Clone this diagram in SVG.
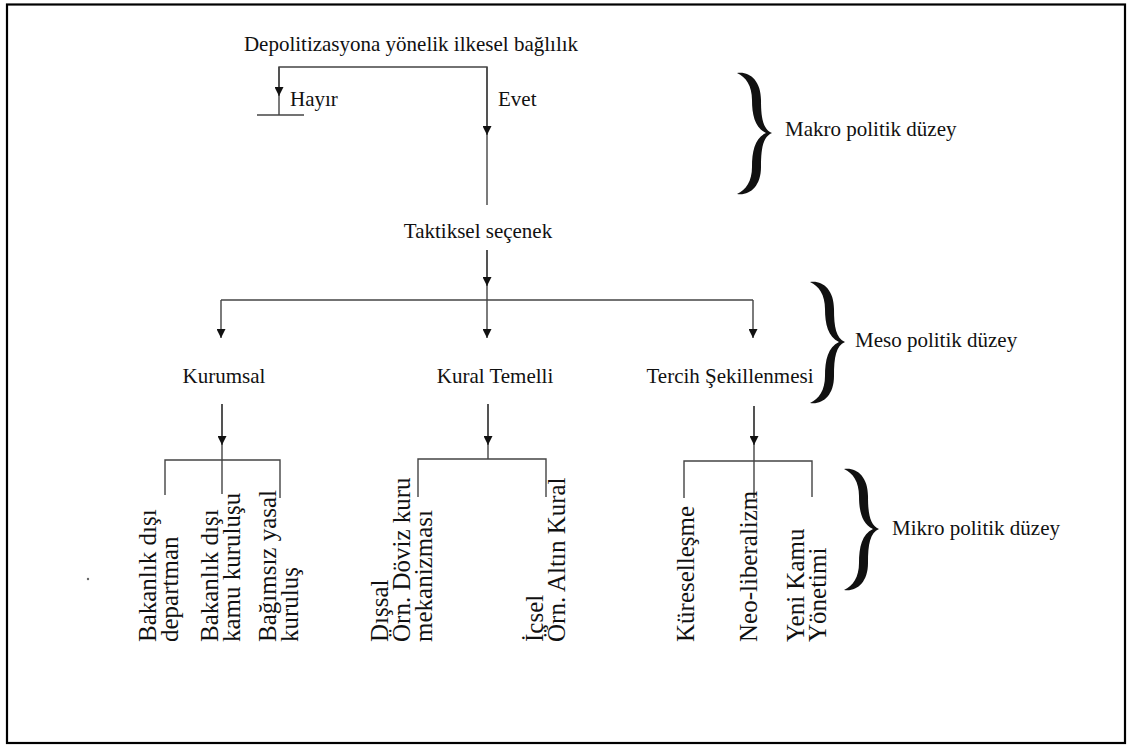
<svg xmlns="http://www.w3.org/2000/svg" width="1133" height="745" viewBox="0 0 1133 745">
<style>
.t{font-family:"Liberation Serif","Times New Roman",serif;font-size:21px;fill:#111}
.r{font-family:"Liberation Serif","Times New Roman",serif;font-size:25px;fill:#111}
.c{fill:none;stroke:#444;stroke-width:1.4}
.a{fill:none;stroke:#444;stroke-width:1.4;marker-end:url(#ah)}
.b{fill:#111}
</style>
<defs>
<marker id="ah" viewBox="0 -5 10 10" refX="10" refY="0" markerWidth="9" markerHeight="9" markerUnits="userSpaceOnUse" orient="auto">
<path d="M0,-5 L10,0 L0,5 Z" fill="#111"/>
</marker>
<path id="brace" d="M0,1 C12,-1 24,8 24,28 C24,46 26,57 35,61 C26,65 24,76 24,95 C24,115 12,124 0,122 C9,118 15,109 15,95 C15,79 18,66 29,61 C18,56 15,43 15,28 C15,14 9,5 0,1 Z"/>
</defs>
<rect x="7" y="4.5" width="1118" height="738.5" fill="none" stroke="#000" stroke-width="2.2"/>
<circle cx="88" cy="579" r="1.2" fill="#666"/>

<g id="connectors">
<path class="c" d="M279,115 V67 H487 V205"/>
<path class="a" d="M279,67 V96"/>
<path class="a" d="M487,67 V135"/>
<path class="c" d="M257,115 H304"/>
<path class="c" d="M487,250 V300"/>
<path class="a" d="M487,250 V286"/>
<path class="c" d="M221,300 H753"/>
<path class="a" d="M221,300 V338"/>
<path class="a" d="M487,300 V338"/>
<path class="a" d="M753,300 V338"/>
<path class="c" d="M222,404 V460"/>
<path class="a" d="M222,404 V445"/>
<path class="c" d="M488,404 V459"/>
<path class="a" d="M488,404 V445"/>
<path class="c" d="M754,406 V461"/>
<path class="a" d="M754,406 V445"/>
<path class="c" d="M165,495 V460 H280 V498"/>
<path class="c" d="M222,460 V494"/>
<path class="c" d="M418,497 V459 H546 V497"/>
<path class="c" d="M684,498 V461 H812 V497"/>
<path class="c" d="M754,461 V498"/>
</g>

<g id="braces">
<use href="#brace" class="b" transform="translate(737,72)"/>
<use href="#brace" class="b" transform="translate(810,281)"/>
<use href="#brace" class="b" transform="translate(844,468)"/>
</g>

<g id="root"><text class="t" x="411" y="51" text-anchor="middle">Depolitizasyona yönelik ilkesel bağlılık</text></g>
<g id="hayir"><text class="t" x="290" y="106">Hayır</text></g>
<g id="evet"><text class="t" x="498" y="106">Evet</text></g>
<g id="taktiksel"><text class="t" x="478" y="238" text-anchor="middle">Taktiksel seçenek</text></g>
<g id="kurumsal"><text class="t" x="224" y="383" text-anchor="middle">Kurumsal</text></g>
<g id="kural"><text class="t" x="495" y="383" text-anchor="middle">Kural Temelli</text></g>
<g id="tercih"><text class="t" x="730" y="383" text-anchor="middle">Tercih Şekillenmesi</text></g>

<g id="makro"><text class="t" x="785" y="136">Makro politik düzey</text></g>
<g id="meso"><text class="t" x="855" y="347">Meso politik düzey</text></g>
<g id="mikro"><text class="t" x="892" y="535">Mikro politik düzey</text></g>

<g id="k1"><text class="r" transform="translate(156,642) rotate(-90)"><tspan x="0" y="0">Bakanlık dışı</tspan><tspan x="0" dy="22">departman</tspan></text></g>
<g id="k2"><text class="r" transform="translate(218,642) rotate(-90)"><tspan x="0" y="0">Bakanlık dışı</tspan><tspan x="0" dy="22">kamu kuruluşu</tspan></text></g>
<g id="k3"><text class="r" transform="translate(276,642) rotate(-90)"><tspan x="0" y="0">Bağımsız yasal</tspan><tspan x="0" dy="22">kuruluş</tspan></text></g>
<g id="r1"><text class="r" transform="translate(388,642) rotate(-90)"><tspan x="0" y="0">Dışsal</tspan><tspan x="0" dy="22">Örn. Döviz kuru</tspan><tspan x="0" dy="22">mekanizması</tspan></text></g>
<g id="r2"><text class="r" transform="translate(543,642) rotate(-90)"><tspan x="0" y="0">İçsel</tspan><tspan x="0" dy="22">Örn. Altın Kural</tspan></text></g>
<g id="p1"><text class="r" transform="translate(694,642) rotate(-90)">Küreselleşme</text></g>
<g id="p2"><text class="r" transform="translate(757,642) rotate(-90)">Neo-liberalizm</text></g>
<g id="p3"><text class="r" transform="translate(804,642) rotate(-90)"><tspan x="0" y="0">Yeni Kamu</tspan><tspan x="0" dy="22">Yönetimi</tspan></text></g>
</svg>
